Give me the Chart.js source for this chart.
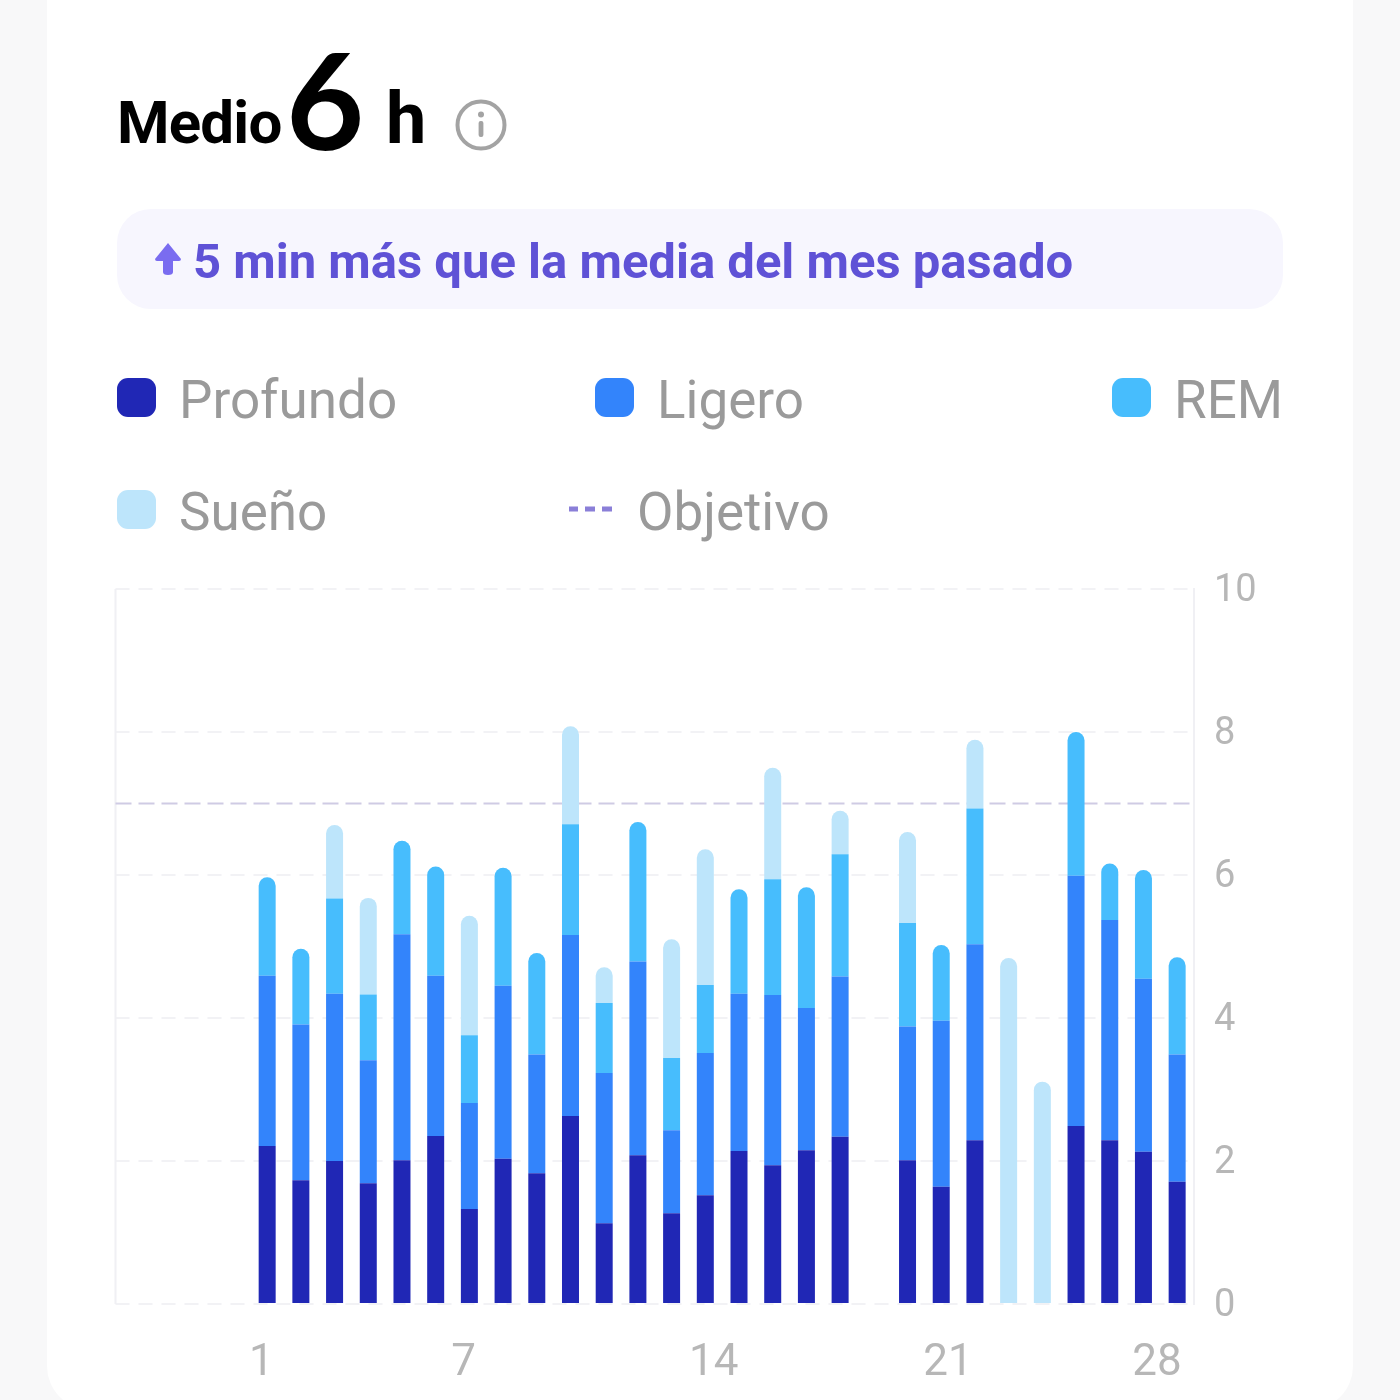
<!DOCTYPE html>
<html lang="es"><head><meta charset="utf-8">
<script src="https://cdn.jsdelivr.net/npm/chart.js@4"></script>
<style>
html,body{margin:0;padding:0;width:1400px;height:1400px;overflow:hidden;background:#f8f8f9;font-family:Roboto,sans-serif}
#card{position:absolute;left:47px;top:-60px;width:1306px;height:1470px;background:#fff;border-radius:44px}
canvas{position:absolute;left:0;top:0}
.t{position:absolute;white-space:nowrap;line-height:1}
.sw{position:absolute;width:39px;height:39px;border-radius:11px}
.lg{position:absolute;white-space:nowrap;line-height:1;color:#9a9a9a;font-size:53px;font-weight:400}
#pill{position:absolute;left:117px;top:209px;width:1166px;height:100px;border-radius:34px;background:#f7f6fe}
svg{position:absolute}
</style></head><body>
<div id="card"></div>
<div class="t" style="left:117px;top:93px;font-size:60px;font-weight:700;color:#000;letter-spacing:-0.8px">Medio</div>
<div class="t" style="left:286px;top:31px;font-size:135px;font-weight:700;color:#000;font-family:Lato">6</div>
<div class="t" style="left:386px;top:83px;font-size:72px;font-weight:700;color:#000">h</div>
<svg style="left:454px;top:98px" width="54" height="54" viewBox="0 0 54 54"><circle cx="27" cy="27" r="23.5" fill="none" stroke="#a3a3a3" stroke-width="4"/><circle cx="27" cy="16.5" r="3" fill="#a3a3a3"/><rect x="24.6" y="23" width="4.8" height="16" rx="2" fill="#a3a3a3"/></svg>
<div id="pill"></div>
<svg style="left:154px;top:242px" width="28" height="34" viewBox="0 0 28 34"><path d="M14 1 L27 17 Q27 19 25 19 L19 19 L19 30 Q19 33 14 33 Q9 33 9 30 L9 19 L3 19 Q1 19 1 17 Z" fill="#7a6cf0"/></svg>
<div class="t" style="left:193px;top:237px;font-size:49px;font-weight:700;color:#5f52d6">5 min más que la media del mes pasado</div>
<div class="sw" style="left:117px;top:378px;background:#2027b5"></div>
<div class="lg" style="left:179px;top:374px">Profundo</div>
<div class="sw" style="left:595px;top:378px;background:#3384fb"></div>
<div class="lg" style="left:657px;top:374px">Ligero</div>
<div class="sw" style="left:1112px;top:378px;background:#47bdfd"></div>
<div class="lg" style="left:1174px;top:374px">REM</div>
<div class="sw" style="left:117px;top:490px;background:#bde5fb"></div>
<div class="lg" style="left:179px;top:486px">Sueño</div>
<svg style="left:566px;top:504px" width="50" height="10"><path d="M3 5H12M19 5H29M36 5H46" stroke="#8a7fd8" stroke-width="5" fill="none"/></svg>
<div class="lg" style="left:637px;top:486px">Objetivo</div>
<canvas id="c" width="1400" height="1400"></canvas>
<script>
const categories = ["","","","",1,2,3,4,5,6,7,8,9,10,11,12,13,14,15,16,17,18,19,20,21,22,23,24,25,26,27,28].map(String);
const profundo = [null,null,null,null,2.21,1.73,2.00,1.69,2.01,2.35,1.33,2.03,1.83,2.63,1.13,2.08,1.27,1.52,2.14,1.94,2.15,2.34,null,2.01,1.64,2.29,null,null,2.49,2.29,2.13,1.71];
const ligero   = [null,null,null,null,2.38,2.18,2.34,1.72,3.16,2.24,1.48,2.42,1.66,2.53,2.10,2.71,1.16,1.99,2.20,2.38,1.99,2.24,null,1.87,2.32,2.74,null,null,3.50,3.08,2.42,1.78];
const rem      = [null,null,null,null,1.38,1.06,1.33,0.92,1.31,1.53,0.95,1.65,1.42,1.55,0.98,1.95,1.01,0.95,1.46,1.62,1.69,1.71,null,1.45,1.06,1.90,null,null,2.01,0.79,1.52,1.36];
const sueno    = [null,null,null,null,null,null,1.03,1.35,null,null,1.67,null,null,1.37,0.50,null,1.66,1.90,null,1.56,null,0.61,null,1.27,null,0.96,4.84,3.11,null,null,null,null];
const objetivo = 7;
const yTicks = [0,2,4,6,8,10];
const xTickValues = [0.83,6.83,14.25,21.2,27.4];
const xTickLabels = ["1","7","14","21","28"];
const series = [profundo,ligero,rem,sueno];
const names = ["Profundo","Ligero","REM","Sueño"];
const colors = ["#2027b5","#3384fb","#47bdfd","#bde5fb"];

function radius(ctx){
  const i = ctx.dataIndex, d = ctx.datasetIndex;
  const isTop = !series.slice(d+1).some(s => s[i] != null);
  const r = isTop ? 8.5 : 0;
  return {topLeft:r, topRight:r, bottomLeft:0, bottomRight:0};
}
const overlays = {
  id:'overlays',
  beforeDatasetsDraw(chart){
    const {ctx, chartArea:a, scales:{y}} = chart;
    ctx.save();
    ctx.strokeStyle='#f0f0f4'; ctx.lineWidth=2; ctx.setLineDash([]);
    ctx.beginPath(); ctx.moveTo(a.left,a.top); ctx.lineTo(a.left,a.bottom); ctx.stroke();
    const gy = y.getPixelForValue(objetivo);
    ctx.strokeStyle='#cfcbe4'; ctx.setLineDash([16,7]); ctx.lineWidth=2;
    ctx.beginPath(); ctx.moveTo(a.left,gy); ctx.lineTo(a.right,gy); ctx.stroke();
    ctx.restore();
  }
};
new Chart(document.getElementById('c'),{
  type:'bar',
  data:{labels:categories,datasets:series.map((s,k)=>({
    label:names[k],data:s,backgroundColor:colors[k],
    barThickness:17,borderSkipped:false,borderRadius:radius,stack:'a',inflateAmount:0
  }))},
  plugins:[overlays],
  options:{
    responsive:false,animation:false,
    layout:{padding:{left:115.5,top:589,right:0,bottom:0}},
    plugins:{legend:{display:false},tooltip:{enabled:false}},
    scales:{
      x:{type:'category',stacked:true,display:false,grid:{display:false}},
      days:{type:'linear',position:'bottom',axis:'x',min:-3.5,max:28.5,offset:false,
        afterBuildTicks(s){s.ticks=xTickValues.map(v=>({value:v}));},
        afterFit(s){s.height=96;},
        grid:{display:false,drawTicks:false,offset:false},border:{display:false},
        ticks:{autoSkip:false,maxRotation:0,padding:34,color:'#b7b7b7',
          font:{family:'Roboto',size:44,weight:400},
          callback:(v,i)=>xTickLabels[i]}},
      y:{position:'right',stacked:true,min:0,max:10,
        afterBuildTicks(s){s.ticks=yTicks.map(v=>({value:v}));},
        afterFit(s){s.width=206;},
        grid:{color:'#f2f2f5',lineWidth:2,drawTicks:false,tickLength:0},
        border:{display:true,color:'#f0f0f4',width:2,dash:[14,9]},
        ticks:{padding:20,labelOffset:2,color:'#b7b7b7',font:{family:'Roboto',size:38,weight:400}}}
    }
  }
});
</script>
</body></html>
